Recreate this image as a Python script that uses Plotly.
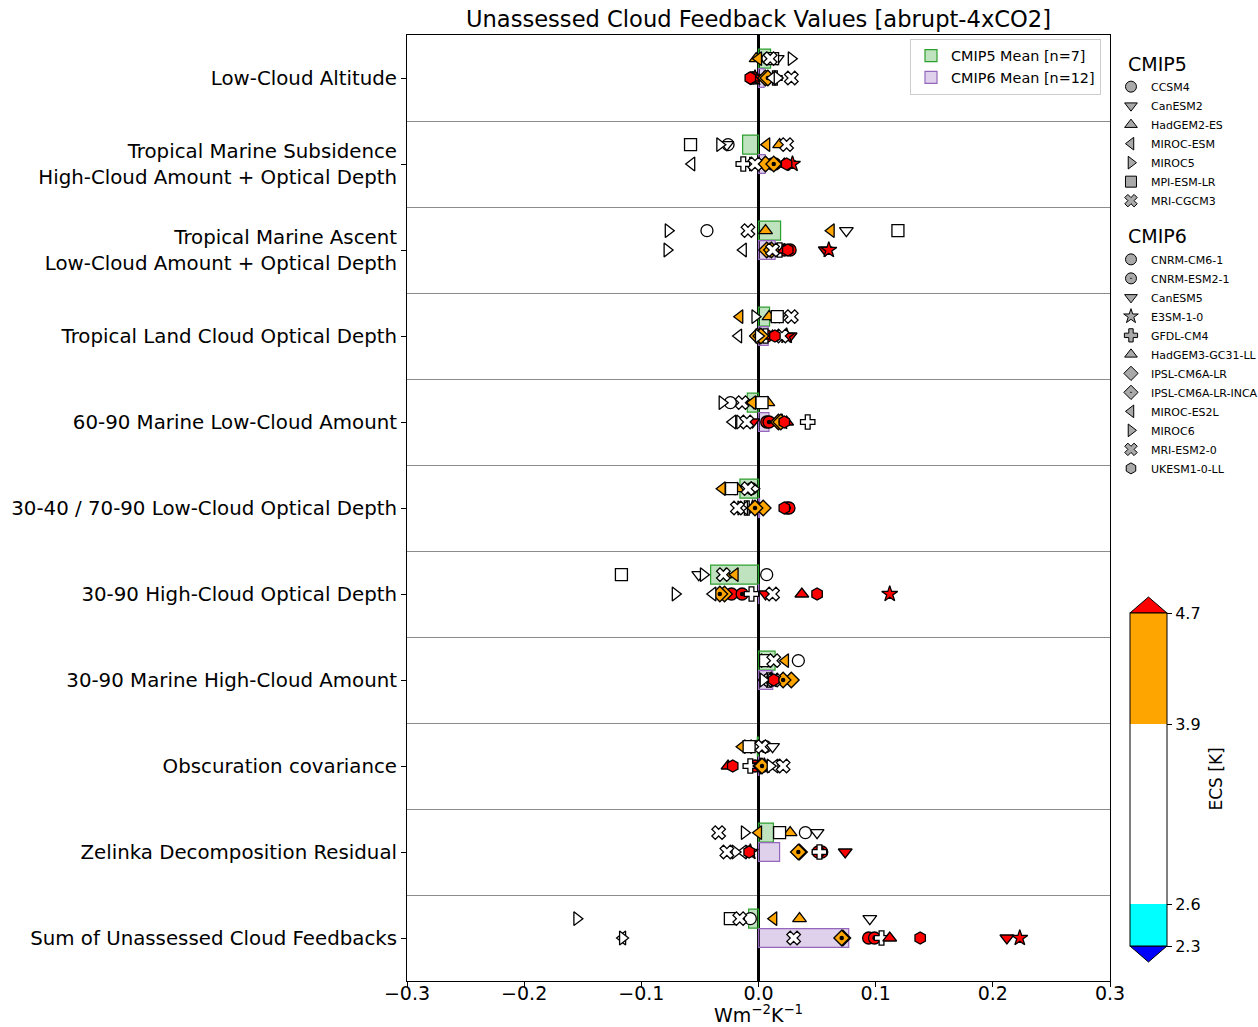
import numpy as np
import plotly.graph_objects as go

# Feedback components (rows, top to bottom)
components = [
    "Low-Cloud Altitude",
    "Tropical Marine Subsidence<br>High-Cloud Amount + Optical Depth",
    "Tropical Marine Ascent<br>Low-Cloud Amount + Optical Depth",
    "Tropical Land Cloud Optical Depth",
    "60-90 Marine Low-Cloud Amount",
    "30-40 / 70-90 Low-Cloud Optical Depth",
    "30-90 High-Cloud Optical Depth",
    "30-90 Marine High-Cloud Amount",
    "Obscuration covariance",
    "Zelinka Decomposition Residual",
    "Sum of Unassessed Cloud Feedbacks",
]

# CMIP5 models, their ECS [K] and feedback values [W m-2 K-1] per component
cmip5_models = ["CCSM4", "CanESM2", "HadGEM2-ES", "MIROC-ESM", "MIROC5", "MPI-ESM-LR", "MRI-CGCM3"]
cmip5_symbols = ["circle", "triangle-down", "triangle-up", "triangle-left", "triangle-right", "square", "x"]
cmip5_ecs = [2.94, 3.69, 4.61, 4.67, 2.72, 3.63, 2.60]
ccsm4 = [0.008, -0.026, -0.044, 0.014, -0.024, -0.006, 0.007, 0.034, 0.006, 0.040, -0.007]
canesm2 = [0.016, -0.027, 0.075, 0.018, -0.004, -0.020, -0.051, 0.008, 0.012, 0.050, 0.095]
hadgem2_es = [-0.002, 0.018, 0.006, 0.009, 0.008, -0.018, -0.028, 0.010, -0.002, 0.027, 0.035]
miroc_esm = [0.000, 0.007, 0.062, -0.016, -0.005, -0.031, -0.020, 0.023, -0.014, 0.000, 0.013]
miroc5 = [0.028, -0.033, -0.077, -0.003, -0.031, -0.004, -0.047, 0.005, -0.004, -0.012, -0.155]
mpi_esm_lr = [0.012, -0.058, 0.119, 0.016, 0.003, -0.023, -0.117, 0.006, -0.008, 0.018, -0.024]
mri_cgcm3 = [0.010, 0.024, -0.009, 0.028, -0.014, -0.009, -0.030, 0.013, 0.003, -0.034, -0.016]
cmip5_values = [ccsm4, canesm2, hadgem2_es, miroc_esm, miroc5, mpi_esm_lr, mri_cgcm3]

# CMIP6 models, their ECS [K] and feedback values [W m-2 K-1] per component
cmip6_models = ["CNRM-CM6-1", "CNRM-ESM2-1", "CanESM5", "E3SM-1-0", "GFDL-CM4", "HadGEM3-GC31-LL",
                "IPSL-CM6A-LR", "IPSL-CM6A-LR-INCA", "MIROC-ES2L", "MIROC6", "MRI-ESM2-0", "UKESM1-0-LL"]
cmip6_symbols = ["circle", "circle", "triangle-down", "star", "cross", "triangle-up",
                 "diamond", "diamond", "triangle-left", "triangle-right", "x", "hexagon"]
cmip6_dotted = [False, True, False, False, False, False, False, True, False, False, False, False]
cmip6_ecs = [4.83, 4.76, 5.64, 5.31, 3.89, 5.55, 4.56, 4.13, 2.66, 2.61, 3.13, 5.36]
cnrm_cm6_1 = [-0.006, 0.012, 0.027, 0.005, 0.007, 0.024, -0.023, 0.008, -0.003, 0.054, 0.094]
cnrm_esm2_1 = [-0.004, 0.014, 0.022, 0.007, 0.009, 0.026, -0.014, 0.010, 0.004, 0.051, 0.099]
canesm5 = [-0.002, 0.026, 0.057, 0.027, -0.005, -0.002, 0.006, 0.012, 0.001, 0.074, 0.212]
e3sm_1_0 = [-0.003, 0.029, 0.060, 0.024, 0.020, -0.005, 0.112, 0.011, 0.005, -0.007, 0.223]
gfdl_cm4 = [0.014, -0.013, 0.018, 0.006, 0.042, -0.010, -0.006, 0.009, -0.007, 0.052, 0.105]
hadgem3_gc31_ll = [-0.005, 0.022, 0.022, 0.012, 0.024, 0.000, 0.037, 0.012, -0.026, -0.009, 0.112]
ipsl_cm6a_lr = [0.006, 0.006, 0.007, -0.001, 0.017, 0.004, -0.029, 0.028, 0.002, 0.035, 0.072]
ipsl_cm6a_lr_inca = [0.008, 0.013, 0.011, 0.002, 0.019, -0.003, -0.033, 0.021, 0.003, 0.034, 0.071]
miroc_es2l = [0.012, -0.057, -0.013, -0.017, -0.022, -0.012, -0.039, 0.005, 0.014, -0.013, -0.116]
miroc6 = [0.016, -0.005, -0.078, 0.000, -0.016, -0.015, -0.071, 0.004, 0.010, -0.020, -0.116]
mri_esm2_0 = [0.028, -0.003, 0.012, 0.020, -0.010, -0.018, 0.012, 0.013, 0.021, -0.027, 0.030]
ukesm1_0_ll = [-0.007, 0.024, 0.025, 0.014, 0.022, 0.022, 0.050, 0.013, -0.022, -0.008, 0.138]
cmip6_values = [cnrm_cm6_1, cnrm_esm2_1, canesm5, e3sm_1_0, gfdl_cm4, hadgem3_gc31_ll,
                ipsl_cm6a_lr, ipsl_cm6a_lr_inca, miroc_es2l, miroc6, mri_esm2_0, ukesm1_0_ll]

# ECS colour classes
ecs_bounds = [2.3, 2.6, 3.9, 4.7]
ecs_colors = ["#0000ff", "#00ffff", "#ffffff", "#ffa500", "#ff0000"]

x_tick_vals = [-0.3, -0.2, -0.1, 0.0, 0.1, 0.2, 0.3]
x_tick_text = ["\u22120.3", "\u22120.2", "\u22120.1", "0.0", "0.1", "0.2", "0.3"]


def ecs_color(ecs):
    return ecs_colors[int(np.searchsorted(ecs_bounds, ecs, side="right"))]


rows = np.arange(len(components))
y5 = rows - 0.225   # CMIP5 sits just above each row centre
y6 = rows.astype(float)

fig = go.Figure()

# Multi-model mean bars
mean5 = np.mean(np.array(cmip5_values), axis=0)
mean6 = np.mean(np.array(cmip6_values), axis=0)
fig.add_trace(go.Bar(x=mean5, y=y5, orientation="h", width=0.22, base=0,
                     marker=dict(color="rgba(44,160,44,0.3)", line=dict(color="rgb(44,160,44)", width=1.2)),
                     name=f"CMIP5 Mean [n={len(cmip5_models)}]", legend="legend2", hoverinfo="skip"))
fig.add_trace(go.Bar(x=mean6, y=y6, orientation="h", width=0.22, base=0,
                     marker=dict(color="rgba(148,103,189,0.3)", line=dict(color="rgb(148,103,189)", width=1.2)),
                     name=f"CMIP6 Mean [n={len(cmip6_models)}]", legend="legend2", hoverinfo="skip"))

MS = 12
LW = 1.3

# Individual model values
for name, sym, ecs, vals in zip(cmip5_models, cmip5_symbols, cmip5_ecs, cmip5_values):
    fig.add_trace(go.Scatter(x=vals, y=y5, mode="markers", name=name, showlegend=False,
                             marker=dict(symbol=sym, size=MS, color=ecs_color(ecs),
                                         line=dict(color="black", width=LW))))
for name, sym, dot, ecs, vals in zip(cmip6_models, cmip6_symbols, cmip6_dotted, cmip6_ecs, cmip6_values):
    fig.add_trace(go.Scatter(x=vals, y=y6, mode="markers", name=name, showlegend=False,
                             marker=dict(symbol=sym, size=MS, color=ecs_color(ecs),
                                         line=dict(color="black", width=LW))))
    if dot:
        fig.add_trace(go.Scatter(x=vals, y=y6, mode="markers", showlegend=False, hoverinfo="skip",
                                 marker=dict(symbol="circle", size=4.5, color="black")))

# Legend entries for models (grey markers)
for name, sym in zip(cmip5_models, cmip5_symbols):
    fig.add_trace(go.Scatter(x=[None], y=[None], mode="markers", name=name,
                             legendgroup="cmip5", legendgrouptitle_text="\u00a0\u00a0CMIP5",
                             marker=dict(symbol=sym, size=11, color="#a9a9a9",
                                         line=dict(color="black", width=1))))
for name, sym, dot in zip(cmip6_models, cmip6_symbols, cmip6_dotted):
    fig.add_trace(go.Scatter(x=[None], y=[None], mode="markers", name=name,
                             legendgroup="cmip6", legendgrouptitle_text="\u00a0\u00a0CMIP6",
                             marker=dict(symbol=sym + ("-dot" if dot else ""), size=11, color="#a9a9a9",
                                         line=dict(color="black", width=1))))

# ECS colour bar
lo, hi = ecs_bounds[0], ecs_bounds[-1]
f1 = (ecs_bounds[1] - lo) / (hi - lo)
f2 = (ecs_bounds[2] - lo) / (hi - lo)
cscale = [[0, ecs_colors[1]], [f1, ecs_colors[1]], [f1, ecs_colors[2]], [f2, ecs_colors[2]],
          [f2, ecs_colors[3]], [1, ecs_colors[3]]]
CB_X, CB_Y, CB_LEN, CB_THICK = 1.0284, 0.213, 333, 37
fig.add_trace(go.Scatter(x=[None, None], y=[None, None], mode="markers", showlegend=False, hoverinfo="skip",
                         marker=dict(color=[lo, hi], cmin=lo, cmax=hi, colorscale=cscale, showscale=True,
                                     colorbar=dict(x=CB_X, xanchor="left", y=CB_Y, yanchor="middle",
                                                   len=CB_LEN, lenmode="pixels", thickness=CB_THICK,
                                                   xpad=0, ypad=0, outlinecolor="black", outlinewidth=1,
                                                   tickmode="array", tickvals=ecs_bounds,
                                                   ticktext=[str(b) for b in ecs_bounds],
                                                   ticks="outside", ticklen=5, tickcolor="black",
                                                   tickfont=dict(size=16, color="black")))))

# Extension triangles at the ends of the colour bar (paper coordinates)
W, H = 703.0, 946.0
cx0, cx1 = CB_X, CB_X + CB_THICK / W
cmid = (cx0 + cx1) / 2
ytop = CB_Y + CB_LEN / 2 / H
ybot = CB_Y - CB_LEN / 2 / H
tri = 16 / H
fig.add_shape(type="path", xref="paper", yref="paper",
              path=f"M{cx0},{ytop} L{cx1},{ytop} L{cmid},{ytop + tri} Z",
              fillcolor=ecs_colors[-1], line=dict(color="black", width=1))
fig.add_shape(type="path", xref="paper", yref="paper",
              path=f"M{cx0},{ybot} L{cx1},{ybot} L{cmid},{ybot - tri} Z",
              fillcolor=ecs_colors[0], line=dict(color="black", width=1))

# Colour bar label and x-axis label
fig.add_annotation(text="ECS [K]", x=1.1494, y=CB_Y, xref="paper", yref="paper",
                   textangle=-90, showarrow=False, xanchor="center", yanchor="middle",
                   font=dict(size=17, color="black"))
fig.add_annotation(text="Wm<sup>\u22122</sup>K<sup>\u22121</sup>", x=0.5, y=-0.035,
                   xref="paper", yref="paper", showarrow=False, xanchor="center", yanchor="middle",
                   font=dict(size=19, color="black"))

fig.update_layout(
    width=1258, height=1027,
    margin=dict(l=407, r=148, t=35, b=46, autoexpand=False),
    paper_bgcolor="white", plot_bgcolor="white",
    font=dict(family="DejaVu Sans", color="black"),
    title=dict(text="Unassessed Cloud Feedback Values [abrupt-4xCO2]", x=0.5, xref="paper",
               xanchor="center", y=1 - 19 / 1027, yref="container", yanchor="middle",
               font=dict(size=22.6, color="black")),
    barmode="overlay",
    showlegend=True,
    legend=dict(x=1.0014, xanchor="left", y=0.99, yanchor="top", bgcolor="rgba(0,0,0,0)",
                traceorder="grouped", tracegroupgap=12, font=dict(size=11),
                grouptitlefont=dict(size=19), itemsizing="trace"),
    legend2=dict(x=0.7155, xanchor="left", y=0.996, yanchor="top", bgcolor="rgba(255,255,255,0.8)",
                 bordercolor="#cccccc", borderwidth=1, font=dict(size=14.4), tracegroupgap=0),
    xaxis=dict(range=[-0.3, 0.3], tickvals=x_tick_vals, ticktext=x_tick_text, ticks="outside",
               ticklen=5, tickcolor="black", tickfont=dict(size=19), ticklabelstandoff=-10,
               showgrid=False, zeroline=True, zerolinecolor="black", zerolinewidth=3,
               showline=True, linecolor="black", linewidth=1, mirror=True),
    yaxis=dict(range=[len(components) - 0.5, -0.5], tickvals=list(rows), ticktext=components,
               ticks="outside", ticklen=5, tickcolor="black", tickfont=dict(size=19.8),
               showgrid=False, zeroline=False,
               showline=True, linecolor="black", linewidth=1, mirror=True,
               minor=dict(tickmode="array", tickvals=list(rows[:-1] + 0.5), showgrid=True,
                          gridcolor="#8c8c8c", gridwidth=1, ticks="")),
)

fig.write_html("out.html")
